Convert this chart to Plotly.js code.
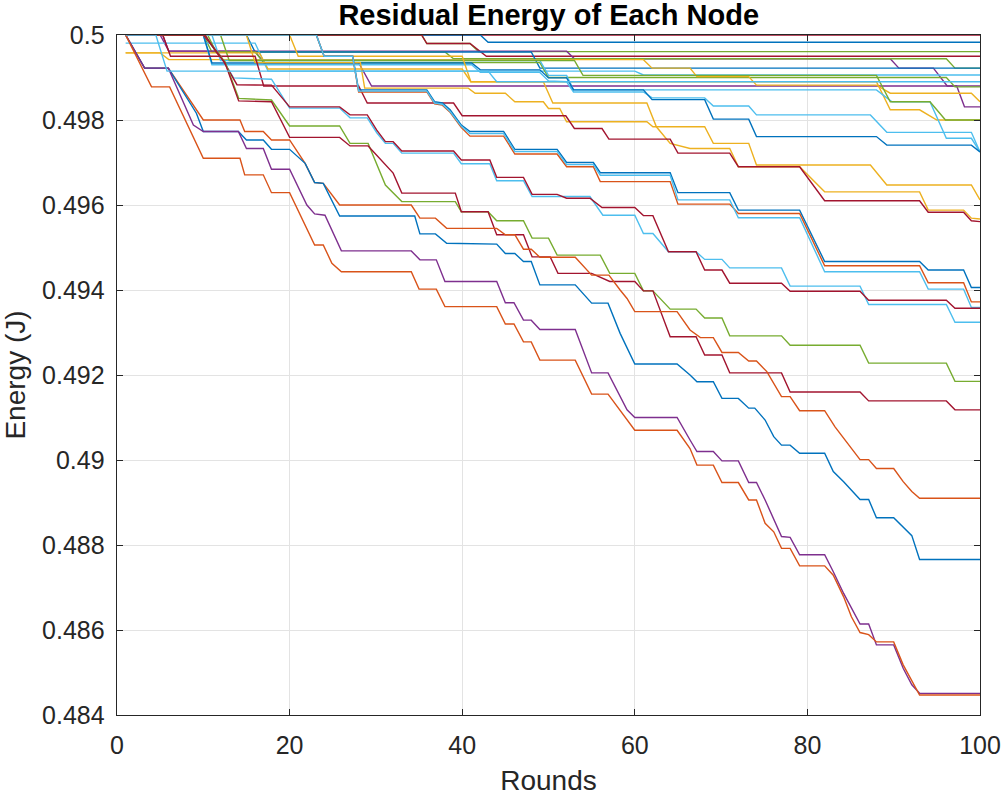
<!DOCTYPE html>
<html>
<head>
<meta charset="utf-8">
<script src="https://cdn.plot.ly/plotly-3.0.1.min.js"></script>
<style>html,body{margin:0;padding:0;background:#fff}#chart{width:1005px;height:799px}</style>
</head>
<body>
<div id="chart"></div>
<script>
// ---- data: [round, residual energy (J)] breakpoints ----
const node01 = [[1,0.5],[100,0.5]];
const node02 = [[1,0.5],[42.1,0.5],[43,0.49983],[100,0.49983]];
const node03 = [[1,0.5],[35.3,0.5],[35.9,0.4998],[40.9,0.4998],[41.9,0.49961],[100,0.49961]];
const node04 = [[1,0.5],[35.3,0.5],[35.9,0.4998],[40.9,0.4998],[42.8,0.4995],[100,0.4995]];
const node05 = [[1,0.5],[5,0.5],[6,0.49962],[52.1,0.49962],[53,0.49944],[89.6,0.49944],[90.6,0.49922],[94.6,0.49922],[96.2,0.4988],[97.3,0.4988],[98.2,0.49831],[100,0.49831]];
const node06 = [[1,0.5],[10,0.5],[11,0.4996],[38,0.4996],[39,0.49944],[96.1,0.49944],[97.1,0.49922],[100,0.49922]];
const node07 = [[1,0.5],[15,0.5],[16,0.4996],[48,0.4996],[49,0.49922],[100,0.49922]];
const node08 = [[1,0.49981],[16,0.49981],[17.5,0.49915],[60,0.49915],[61,0.49906],[100,0.49906]];
const node09 = [[1,0.5],[5.3,0.5],[6,0.49962],[16,0.49962],[17,0.49935],[28,0.49935],[29.5,0.4988],[100,0.4988]];
const node10 = [[1,0.5],[10.5,0.5],[11.5,0.4996],[16,0.4996],[17,0.49935],[49,0.49935],[50,0.499],[96.1,0.499],[97.1,0.49878],[100,0.49878]];
const node11 = [[1,0.49958],[5,0.49958],[6,0.49942],[61,0.49942],[62,0.49922],[66.4,0.49922],[67.2,0.49902],[73.2,0.49902],[74.1,0.49882],[88,0.49882],[89.6,0.49863],[99,0.49863],[100,0.49843]];
const node12 = [[1,0.49958],[16.5,0.49958],[17.5,0.4992],[40,0.4992],[41,0.4989],[88,0.4989],[89.6,0.49824],[93,0.49824],[95,0.498],[100,0.498]];
const node13 = [[1,0.5],[11,0.5],[12,0.4994],[49,0.4994],[50,0.49905],[52.1,0.49905],[52.9,0.49871],[88,0.49871],[89.8,0.49843],[94.2,0.49843],[96.1,0.49757],[99,0.49757],[100,0.49725]];
const node14 = [[1,0.5],[12,0.5],[13,0.4994],[53,0.4994],[54,0.49905],[88,0.49905],[89.6,0.49843],[94.2,0.49843],[96,0.498],[100,0.498]];
const node15 = [[1,0.5],[10,0.5],[11,0.4993],[41.1,0.4993],[42.1,0.49912],[49,0.49912],[50,0.49892],[52.1,0.4989],[52.9,0.49866],[61,0.49866],[62,0.49852],[68.1,0.49852],[69.1,0.49833],[73.2,0.49833],[74.1,0.49812],[87.3,0.49812],[89.2,0.49771],[99,0.49771],[100,0.49725]];
const node16 = [[1,0.5],[10,0.5],[11,0.49934],[41.1,0.49934],[42.1,0.49918],[49,0.49918],[50,0.49899],[52.1,0.49899],[52.9,0.49871],[61,0.49871],[62,0.49848],[68.1,0.49848],[69.1,0.49802],[73.2,0.49802],[74.1,0.49761],[88,0.49761],[89.2,0.49741],[99,0.49741],[100,0.49725]];
const node17 = [[1,0.5],[15,0.5],[16,0.49935],[28.2,0.49935],[28.7,0.49875],[40.7,0.49875],[41.5,0.49863],[45,0.49863],[46.1,0.49843],[49.4,0.49843],[50,0.49827],[51.3,0.49827],[52.1,0.49796],[61.4,0.49796],[62.1,0.49784],[68.1,0.49784],[69.1,0.49745],[73.2,0.49745],[74.1,0.49694],[87.3,0.49694],[89.2,0.49647],[99,0.49647],[100,0.49612]];
const node18 = [[1,0.5],[20,0.5],[21,0.4995],[40,0.4995],[41,0.4989],[49.4,0.4989],[50.5,0.4984],[61.4,0.4984],[62.5,0.49784],[64.1,0.49745],[66.4,0.49733],[71,0.49733],[72,0.4969],[79.1,0.4969],[82,0.49631],[93,0.49631],[94,0.49588],[98.1,0.49588],[99,0.49569],[100,0.49567]];
const node19 = [[1,0.5],[5.3,0.5],[6.2,0.4995],[16,0.4995],[17,0.4988],[28,0.4988],[29,0.4984],[39,0.4984],[40,0.4981],[52,0.4981],[53,0.4978],[56.2,0.4978],[57,0.49755],[64.1,0.49755],[65,0.49722],[71,0.49722],[72,0.4969],[79.1,0.4969],[82,0.4961],[93,0.4961],[94,0.49583],[98.1,0.49583],[99,0.49563],[100,0.49561]];
const node20 = [[1,0.5],[23.1,0.5],[24,0.4995],[27.3,0.4995],[28,0.49871],[35.9,0.49871],[36.8,0.49843],[37.7,0.4984],[38.6,0.49824],[39.9,0.49788],[40.9,0.49773],[44.8,0.49773],[46.1,0.49731],[51,0.49731],[52.1,0.497],[55.2,0.497],[56,0.49676],[64.1,0.49676],[65,0.49629],[71,0.49629],[72,0.49588],[79.1,0.49588],[82,0.49467],[93,0.49467],[94,0.49447],[98.1,0.49447],[99,0.49406],[100,0.49406]];
const node21 = [[1,0.5],[23.1,0.5],[24,0.4995],[27.3,0.4995],[28,0.49866],[35.9,0.49866],[36.8,0.49838],[37.7,0.49835],[38.6,0.49818],[39.9,0.49782],[40.9,0.49762],[44.8,0.49762],[46.1,0.4972],[51,0.4972],[52.1,0.4969],[55.2,0.4969],[56,0.49655],[64.1,0.49655],[65,0.49602],[71,0.49602],[72,0.4958],[79.1,0.4958],[82,0.49457],[93,0.49457],[94,0.49417],[98.1,0.49417],[99,0.49372],[100,0.49372]];
const node22 = [[1,0.5],[23.1,0.5],[24,0.4995],[27.3,0.4995],[28,0.49868],[35.9,0.49868],[36.8,0.4984],[37.7,0.49837],[38.6,0.4982],[39.9,0.49785],[40.9,0.49768],[44.8,0.49768],[46.1,0.49726],[51,0.49726],[52.1,0.49695],[55.2,0.49695],[56,0.4967],[64.1,0.4967],[65,0.49612],[71,0.49612],[72,0.4957],[79.1,0.4957],[82,0.49443],[93,0.49443],[94,0.49402],[98.1,0.49402],[99,0.49359],[100,0.49359]];
const node23 = [[1,0.5],[10,0.5],[12,0.4995],[13.5,0.49899],[17.9,0.49896],[20,0.49828],[25.8,0.49828],[27,0.49805],[29,0.49805],[30.1,0.4977],[31.1,0.49745],[32,0.49745],[33,0.49722],[39,0.49722],[39.9,0.49697],[43.2,0.49697],[44,0.49657],[47.1,0.49657],[48.1,0.4962],[54.8,0.4962],[56.3,0.49576],[60,0.49576],[61,0.49533],[62.1,0.49533],[63.9,0.4949],[67.1,0.4949],[68.1,0.49472],[70.1,0.49472],[71,0.49452],[77,0.49452],[78,0.49409],[86.1,0.49409],[87.1,0.49366],[96.1,0.49366],[97.1,0.49324],[100,0.49324]];
const node24 = [[1,0.5],[10,0.5],[12,0.4995],[13.9,0.49883],[17.9,0.49882],[20,0.49831],[25.8,0.49831],[27,0.49812],[29,0.49812],[30.1,0.49776],[31.1,0.49749],[32,0.49749],[33,0.49727],[39,0.49727],[39.9,0.49706],[43.2,0.49706],[44,0.49665],[47.1,0.49665],[48.1,0.49625],[51,0.49625],[52.1,0.49616],[54.8,0.49616],[56.2,0.49594],[60,0.49594],[61,0.49575],[62.1,0.49575],[63.9,0.4949],[67.1,0.4949],[68.1,0.49447],[70.1,0.49447],[71,0.49416],[77,0.49416],[78,0.49397],[86.1,0.49397],[87.1,0.49376],[96.1,0.49376],[97.1,0.49357],[100,0.49357]];
const node25 = [[1,0.5],[10.2,0.5],[11.5,0.4996],[12.5,0.49938],[14.1,0.49851],[17.9,0.49847],[20,0.49786],[25.8,0.49786],[27,0.49745],[29.1,0.49745],[31.1,0.49647],[33,0.49608],[39.2,0.49608],[39.9,0.49584],[43,0.49584],[44,0.49563],[47.1,0.49563],[48.1,0.49522],[50,0.49522],[51,0.49482],[56,0.49482],[57.1,0.49439],[60,0.49439],[61,0.49398],[62.1,0.49398],[64.1,0.49355],[67.1,0.49355],[68.1,0.49334],[70.1,0.49334],[71,0.49292],[77,0.49292],[78,0.4927],[86.1,0.4927],[87.1,0.49228],[96.1,0.49228],[97.1,0.49185],[100,0.49185]];
const node26 = [[1,0.5],[10.2,0.5],[11.5,0.4996],[12.5,0.49935],[14.1,0.49845],[17.9,0.49843],[20,0.49759],[25.8,0.49759],[27,0.49739],[29.1,0.49739],[32,0.49675],[33,0.49628],[39.2,0.49628],[39.9,0.49584],[43,0.49584],[44,0.4953],[47.1,0.4953],[48.1,0.49478],[50.2,0.49478],[51.1,0.49439],[55,0.49439],[57.1,0.4942],[60,0.4942],[61,0.49398],[62.1,0.49398],[64.1,0.4929],[67.1,0.4929],[68.1,0.49247],[70.1,0.49247],[71,0.49205],[77,0.49205],[78,0.4916],[86.1,0.4916],[87.1,0.49139],[96.1,0.49139],[97.1,0.49118],[100,0.49118]];
const node27 = [[1,0.5],[3.2,0.49922],[5.95,0.49922],[10,0.498],[14.25,0.498],[14.8,0.49773],[16.95,0.49773],[17.9,0.49753],[20,0.49753],[21.8,0.49698],[22.9,0.49653],[23.9,0.49651],[25.8,0.496],[34.1,0.496],[35.1,0.49569],[36.9,0.49569],[38.2,0.49545],[44,0.49545],[45,0.4953],[46.1,0.4953],[47.1,0.49496],[48,0.49496],[49,0.49477],[53.1,0.49477],[55,0.49435],[57,0.49435],[58.3,0.494],[59.1,0.4938],[60,0.49349],[64.9,0.49349],[66.4,0.49306],[67.6,0.49288],[69.1,0.49288],[70.1,0.49253],[72,0.49253],[73.2,0.49233],[74.1,0.49233],[75.3,0.49208],[77,0.49149],[78,0.49149],[79.1,0.49116],[82,0.49116],[83.2,0.49078],[84.2,0.49051],[85.3,0.49024],[86.1,0.49001],[87.1,0.49001],[88,0.4898],[90,0.4898],[91.1,0.48949],[92.1,0.48926],[93,0.4891],[100,0.4891]];
const node28 = [[1,0.5],[3.2,0.49922],[5.95,0.49922],[9.2,0.49816],[10,0.49773],[14.06,0.49773],[15,0.49753],[16.95,0.49753],[17.9,0.49731],[20,0.49731],[21.8,0.49698],[22.9,0.49653],[23.9,0.49651],[25.8,0.49574],[34.5,0.49574],[35.1,0.49532],[36.9,0.49532],[38.2,0.4951],[44,0.49508],[45,0.49486],[46.1,0.49486],[47.1,0.49467],[48,0.49467],[49,0.49412],[53.1,0.49412],[55,0.49369],[56.9,0.49369],[58.3,0.49298],[60,0.49226],[64.9,0.49226],[66.4,0.492],[67.2,0.49184],[69.1,0.49184],[70.1,0.49145],[72,0.49145],[73.2,0.49122],[73.9,0.49122],[75.1,0.49094],[76.1,0.49055],[77,0.49035],[78,0.49035],[79.1,0.49016],[82,0.49016],[83,0.48973],[84.2,0.48949],[86.1,0.48907],[87.1,0.48907],[88,0.48864],[90,0.48864],[91.1,0.48842],[92.1,0.48822],[93,0.48766],[100,0.48766]];
const node29 = [[1,0.5],[3.2,0.49922],[5.95,0.49922],[8.85,0.49788],[10,0.49773],[14.06,0.49773],[15,0.49733],[16.95,0.49733],[17.9,0.49684],[20,0.49684],[22,0.496],[22.9,0.49579],[24.1,0.49576],[26,0.49492],[34.1,0.49492],[35.1,0.49471],[37,0.49471],[38,0.4942],[44,0.4942],[45,0.4937],[46,0.4937],[47.1,0.49329],[48,0.49329],[49,0.49307],[53.1,0.49307],[55,0.49205],[56.9,0.49205],[59.1,0.49118],[60,0.491],[64.9,0.491],[66.4,0.49047],[67.2,0.4902],[69.1,0.4902],[70.1,0.48998],[72,0.48998],[73.2,0.48947],[74.1,0.48947],[75.1,0.48906],[77,0.4882],[78,0.48818],[79.1,0.48777],[82,0.48777],[83,0.48737],[84.2,0.48686],[86.1,0.48614],[87.1,0.48614],[88,0.48565],[90,0.48565],[91.1,0.4851],[92.1,0.48471],[93,0.48451],[100,0.48451]];
const node30 = [[1,0.5],[2.5,0.4994],[4,0.49878],[6.1,0.49878],[10,0.4971],[14.25,0.4971],[14.8,0.49671],[16.95,0.49671],[17.9,0.49629],[20,0.49629],[22.9,0.49506],[23.9,0.49506],[24.9,0.49463],[26,0.49443],[34.1,0.49443],[35,0.49402],[37,0.49402],[38,0.49361],[44,0.49361],[45,0.4932],[46,0.4932],[47.1,0.49278],[48,0.49278],[49,0.49235],[53.1,0.49235],[55,0.49155],[56.9,0.49155],[60,0.4907],[64.9,0.4907],[66.4,0.49027],[67.2,0.48988],[69.1,0.48988],[70.1,0.48947],[72,0.48947],[73.2,0.48906],[74.1,0.48906],[75.1,0.48851],[76.1,0.48831],[77,0.48792],[78,0.48792],[79.1,0.48751],[82,0.48751],[83,0.48729],[84.2,0.48678],[85.1,0.48631],[86.1,0.48594],[87.1,0.48589],[88,0.48572],[90,0.48572],[91.1,0.48518],[93,0.48447],[100,0.48447]];
const node31 = [[1,0.5],[4.5,0.5],[5.8,0.49915],[43,0.49915],[44,0.4989],[100,0.4989]];

const nodes = [node01,node02,node03,node04,node05,node06,node07,node08,node09,node10,
  node11,node12,node13,node14,node15,node16,node17,node18,node19,node20,
  node21,node22,node23,node24,node25,node26,node27,node28,node29,node30,node31];

// ---- styles (MATLAB default colour order) ----
const C = {blue:'#0072BD', orange:'#D95319', yellow:'#EDB120', purple:'#7E2F8E', green:'#77AC30', cyan:'#4DBEEE', red:'#A2142F'};
const nodeColors = [C.red,C.blue,C.green,C.red,C.purple,C.green,C.blue,C.cyan,C.purple,C.green,
  C.yellow,C.yellow,C.cyan,C.green,C.cyan,C.blue,C.yellow,C.yellow,C.red,C.blue,
  C.orange,C.cyan,C.cyan,C.red,C.green,C.red,C.orange,C.blue,C.purple,C.orange,C.cyan];

const yTicks = [0.484,0.486,0.488,0.49,0.492,0.494,0.496,0.498,0.5];
const yTickText = ['0.484','0.486','0.488','0.49','0.492','0.494','0.496','0.498','0.5'];
const xTicks = [0,20,40,60,80,100];

const traces = nodes.map((pts,i) => ({
  type:'scatter', mode:'lines',
  x: pts.map(p=>p[0]), y: pts.map(p=>p[1]),
  line:{color:nodeColors[i], width:1.4},
  hoverinfo:'skip', showlegend:false
}));

const axisCol = '#262626';
const FONT = 'Liberation Sans, Arial, sans-serif';
const layout = {
  width:1005, height:799,
  margin:{l:117, r:25, t:35, b:84},
  paper_bgcolor:'#fff', plot_bgcolor:'#fff',
  font:{family:FONT, color:axisCol},
  title:{text:'<b>Residual Energy of Each Node</b>', x:0.546, xanchor:'center', y:0.981, yanchor:'middle',
    font:{size:29, color:'#000', family:FONT}},
  xaxis:{range:[0,100], tickvals:xTicks, ticks:'inside', ticklen:6, tickcolor:axisCol,
    showline:true, linecolor:axisCol, linewidth:1.4, mirror:'ticks',
    showgrid:true, gridcolor:'#e3e3e3', gridwidth:1, zeroline:false,
    tickfont:{size:25, color:axisCol}, ticklabelstandoff:8,
    title:{text:'Rounds', font:{size:28, color:axisCol}, standoff:12}},
  yaxis:{range:[0.484,0.5], tickvals:yTicks, ticktext:yTickText, ticks:'inside', ticklen:6, tickcolor:axisCol,
    showline:true, linecolor:axisCol, linewidth:1.4, mirror:'ticks',
    showgrid:true, gridcolor:'#e3e3e3', gridwidth:1, zeroline:false,
    tickfont:{size:25, color:axisCol}, ticklabelstandoff:6,
    title:{text:'Energy (J)', font:{size:28, color:axisCol}, standoff:14}}
};

Plotly.newPlot('chart', traces, layout, {staticPlot:true, displayModeBar:false});
</script>
</body>
</html>
